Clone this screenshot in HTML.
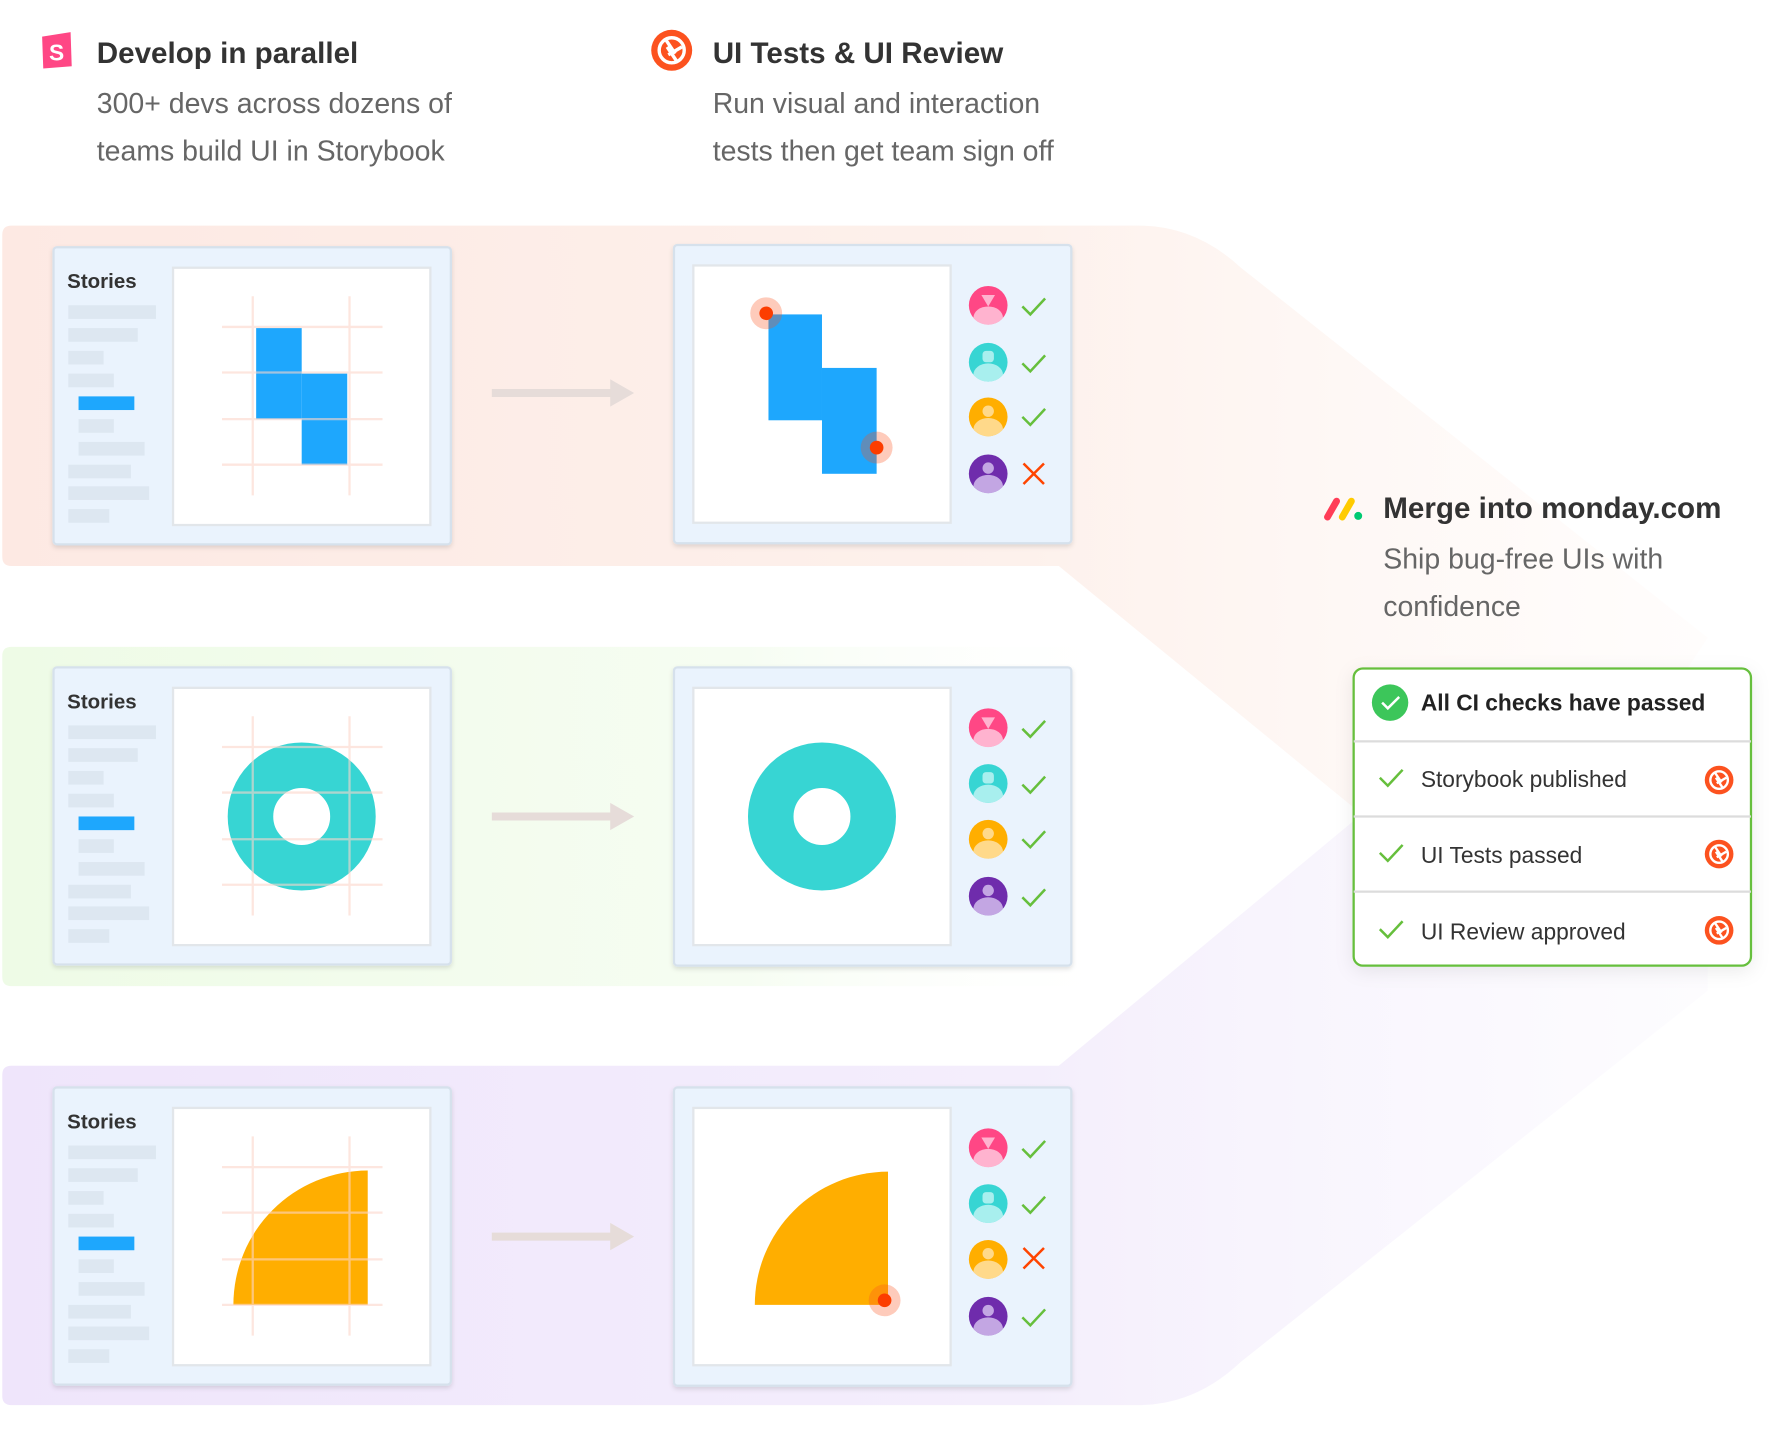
<!DOCTYPE html>
<html><head><meta charset="utf-8"><style>
html,body{margin:0;padding:0;background:#fff;width:1784px;height:1436px;overflow:hidden}
svg{display:block}
text{font-family:"Liberation Sans",sans-serif}
</style></head><body>
<svg width="1784" height="1436" viewBox="0 0 1567 1261" xmlns="http://www.w3.org/2000/svg">
<defs>
<linearGradient id="gp" x1="0" x2="1" y1="0" y2="0"><stop offset="0" stop-color="#fde9e3"/><stop offset="0.6" stop-color="#fdf1ec"/><stop offset="1" stop-color="#fff8f5" stop-opacity="0.3"/></linearGradient>
<linearGradient id="gg" x1="0" x2="1" y1="0" y2="0"><stop offset="0" stop-color="#eefbe6"/><stop offset="0.65" stop-color="#f6fdf2"/><stop offset="1" stop-color="#fff" stop-opacity="0"/></linearGradient>
<linearGradient id="gu" x1="0" x2="1" y1="0" y2="0"><stop offset="0" stop-color="#efe5fb"/><stop offset="0.6" stop-color="#f4eefc"/><stop offset="1" stop-color="#f8f5fd" stop-opacity="0.3"/></linearGradient>
<filter id="sh" x="-10%" y="-10%" width="120%" height="130%"><feDropShadow dx="0" dy="2" stdDeviation="2" flood-color="#000" flood-opacity="0.12"/></filter>
<filter id="sh2" x="-10%" y="-10%" width="120%" height="130%"><feDropShadow dx="0" dy="4" stdDeviation="8" flood-color="#000" flood-opacity="0.08"/></filter>
<g id="chrom"><circle r="18" fill="#fc521f"/><circle r="11" fill="none" stroke="#fff" stroke-width="3"/><path d="M-5,-9 L3,3 M9,-3 L-3,4 M4,9 L-4,-3" stroke="#fff" stroke-width="3" fill="none"/></g>
<path id="chk" d="M-10,0 L-3,7 L10,-7" fill="none" stroke="#66bf3c" stroke-width="2.2"/>
<path id="xx" d="M-9,-9 L9,9 M9,-9 L-9,9" fill="none" stroke="#ff4400" stroke-width="2.2"/>
<g id="leftcard">
<rect x="47" y="217" width="349" height="261" rx="3" fill="#eaf3fd" stroke="#d6e1ec" stroke-width="2" filter="url(#sh)"/>
<text x="59" y="253" font-size="18" font-weight="bold" fill="#333">Stories</text>
<g fill="#dde7f1"><rect x="60" y="268" width="77" height="12"/><rect x="60" y="288" width="61" height="12"/><rect x="60" y="308" width="31" height="12"/><rect x="60" y="328" width="40" height="12"/><rect x="69" y="368" width="31" height="12"/><rect x="69" y="388" width="58" height="12"/><rect x="60" y="408" width="55" height="12"/><rect x="60" y="427" width="71" height="12"/><rect x="60" y="447" width="36" height="12"/></g>
<rect x="69" y="348" width="49" height="12" fill="#1ea7fd"/>
<rect x="152" y="235" width="226" height="226" fill="#fff" stroke="#e2e6ea" stroke-width="2"/>
</g>
<g id="grid" stroke="#fcd6cb" stroke-width="2"><line x1="222" y1="260" x2="222" y2="435"/><line x1="307" y1="260" x2="307" y2="435"/><line x1="195" y1="287" x2="336" y2="287"/><line x1="195" y1="327" x2="336" y2="327"/><line x1="195" y1="368" x2="336" y2="368"/><line x1="195" y1="408" x2="336" y2="408"/></g>
<g id="arrow"><line x1="432" y1="345" x2="540" y2="345" stroke="#e6dcd9" stroke-width="7"/><path d="M536,333 L557,345 L536,357Z" fill="#e6dcd9"/></g>
<g id="rightcard">
<rect x="592" y="215" width="349" height="262" rx="3" fill="#eaf3fd" stroke="#d6e1ec" stroke-width="2" filter="url(#sh)"/>
<rect x="609" y="233" width="226" height="226" fill="#fff" stroke="#e2e6ea" stroke-width="2"/>
</g>
<g id="av1"><circle r="17" fill="#ff4785"/><path d="M-6,-9 L6,-9 L0,1Z" fill="#ffb3cf"/><path d="M-13,11 A13,10 0 0 1 13,11 A17,17 0 0 1 -13,11Z" fill="#ffb3cf"/></g>
<g id="av2"><circle r="17" fill="#37d5d3"/><rect x="-5" y="-10" width="10" height="10" rx="3" fill="#a8efee"/><path d="M-13,11 A13,10 0 0 1 13,11 A17,17 0 0 1 -13,11Z" fill="#a8efee"/></g>
<g id="av3"><circle r="17" fill="#ffae00"/><circle cy="-5" r="5" fill="#ffd98a"/><path d="M-13,11 A13,10 0 0 1 13,11 A17,17 0 0 1 -13,11Z" fill="#ffd98a"/></g>
<g id="av4"><circle r="17" fill="#6f2cac"/><circle cy="-5" r="5" fill="#c3a6e3"/><path d="M-13,11 A13,10 0 0 1 13,11 A17,17 0 0 1 -13,11Z" fill="#c3a6e3"/></g>
</defs>

<path d="M2,206 Q2,198 10,198 L1000,198 Q1050,198 1090,235 L1500,560 L1480,590 L1190,710 L930,497 L10,497 Q2,497 2,489Z" fill="url(#gp)"/>
<path d="M2,576 Q2,568 10,568 L1000,568 L1000,866 L10,866 Q2,866 2,858Z" fill="url(#gg)"/>
<path d="M2,944 Q2,936 10,936 L930,936 L1190,720 L1500,840 L1500,870 L1090,1196 Q1050,1234 1000,1234 L10,1234 Q2,1234 2,1226Z" fill="url(#gu)"/>

<path d="M37,32 L62,28 L63,58 L38,60Z" fill="#ff4785"/>
<text x="43" y="53" font-size="20" font-weight="bold" fill="#fff">S</text>
<text x="85" y="55" font-size="26" font-weight="bold" fill="#333">Develop in parallel</text>
<text x="85" y="99" font-size="25" fill="#666">300+ devs across dozens of</text>
<text x="85" y="141" font-size="25" fill="#666">teams build UI in Storybook</text>
<use href="#chrom" x="590" y="44"/>
<text x="626" y="55" font-size="26" font-weight="bold" fill="#333">UI Tests &amp; UI Review</text>
<text x="626" y="99" font-size="25" fill="#666">Run visual and interaction</text>
<text x="626" y="141" font-size="25" fill="#666">tests then get team sign off</text>

<use href="#leftcard"/>
<rect x="225" y="288" width="40" height="80" fill="#1ea7fd"/><rect x="265" y="328" width="40" height="80" fill="#1ea7fd"/>
<use href="#grid" opacity="0.6"/>
<use href="#arrow"/><use href="#rightcard"/>
<rect x="675" y="276" width="47" height="93" fill="#1ea7fd"/><rect x="722" y="323" width="48" height="93" fill="#1ea7fd"/>
<circle cx="673" cy="275" r="14" fill="#fc521f" opacity="0.3"/><circle cx="673" cy="275" r="6" fill="#fc3d00"/>
<circle cx="770" cy="393" r="14" fill="#fc521f" opacity="0.3"/><circle cx="770" cy="393" r="6" fill="#fc3d00"/>
<use href="#av1" x="868" y="268"/><use href="#chk" x="908" y="269"/>
<use href="#av2" x="868" y="318"/><use href="#chk" x="908" y="319"/>
<use href="#av3" x="868" y="366"/><use href="#chk" x="908" y="366"/>
<use href="#av4" x="868" y="416"/><use href="#xx" x="908" y="416"/>

<g transform="translate(0,369)"><use href="#leftcard"/></g>
<circle cx="265" cy="717" r="45" fill="none" stroke="#37d5d3" stroke-width="40"/>
<g transform="translate(0,369)"><use href="#grid" opacity="0.6"/></g>
<g transform="translate(0,372)"><use href="#arrow"/></g>
<g transform="translate(0,371)"><use href="#rightcard"/></g>
<circle cx="722" cy="717" r="45" fill="none" stroke="#37d5d3" stroke-width="40"/>
<use href="#av1" x="868" y="639"/><use href="#chk" x="908" y="640"/>
<use href="#av2" x="868" y="688"/><use href="#chk" x="908" y="689"/>
<use href="#av3" x="868" y="737"/><use href="#chk" x="908" y="737"/>
<use href="#av4" x="868" y="787"/><use href="#chk" x="908" y="788"/>

<g transform="translate(0,738)"><use href="#leftcard"/></g>
<path d="M205,1146 A118,118 0 0 1 323,1028 L323,1146Z" fill="#ffae00"/>
<g transform="translate(0,738)"><use href="#grid" opacity="0.6"/></g>
<g transform="translate(0,741)"><use href="#arrow"/></g>
<g transform="translate(0,740)"><use href="#rightcard"/></g>
<path d="M663,1146 A117,117 0 0 1 780,1029 L780,1146Z" fill="#ffae00"/>
<circle cx="777" cy="1142" r="14" fill="#fc521f" opacity="0.3"/><circle cx="777" cy="1142" r="6" fill="#fc3d00"/>
<use href="#av1" x="868" y="1008"/><use href="#chk" x="908" y="1009"/>
<use href="#av2" x="868" y="1057"/><use href="#chk" x="908" y="1058"/>
<use href="#av3" x="868" y="1106"/><use href="#xx" x="908" y="1105"/>
<use href="#av4" x="868" y="1156"/><use href="#chk" x="908" y="1157"/>

<line x1="1166" y1="454" x2="1174" y2="440" stroke="#ff3d57" stroke-width="6" stroke-linecap="round"/>
<line x1="1179" y1="454" x2="1187" y2="440" stroke="#ffcb00" stroke-width="6" stroke-linecap="round"/>
<circle cx="1193" cy="453" r="3.5" fill="#00ca72"/>
<text x="1215" y="455" font-size="26" font-weight="bold" fill="#333">Merge into monday.com</text>
<text x="1215" y="499" font-size="25" fill="#666">Ship bug-free UIs with</text>
<text x="1215" y="541" font-size="25" fill="#666">confidence</text>

<rect x="1189" y="587" width="349" height="261" rx="8" fill="#fff" stroke="#66bf3c" stroke-width="2" filter="url(#sh2)"/>
<g stroke="#dcdcdc" stroke-width="2"><line x1="1189" y1="651" x2="1538" y2="651"/><line x1="1189" y1="717" x2="1538" y2="717"/><line x1="1189" y1="783" x2="1538" y2="783"/></g>
<circle cx="1221" cy="617" r="16" fill="#3cc65a"/>
<path d="M1214,617 L1219,622 L1229,612" fill="none" stroke="#fff" stroke-width="2.2"/>
<text x="1248" y="624" font-size="20" font-weight="bold" fill="#222">All CI checks have passed</text>
<use href="#chk" x="1222" y="683"/><text x="1248" y="691" font-size="20" fill="#333">Storybook published</text>
<use href="#chrom" transform="translate(1510,685) scale(0.7)"/>
<use href="#chk" x="1222" y="749"/><text x="1248" y="758" font-size="20" fill="#333">UI Tests passed</text>
<use href="#chrom" transform="translate(1510,750) scale(0.7)"/>
<use href="#chk" x="1222" y="816"/><text x="1248" y="825" font-size="20" fill="#333">UI Review approved</text>
<use href="#chrom" transform="translate(1510,817) scale(0.7)"/>
</svg>
</body></html>
